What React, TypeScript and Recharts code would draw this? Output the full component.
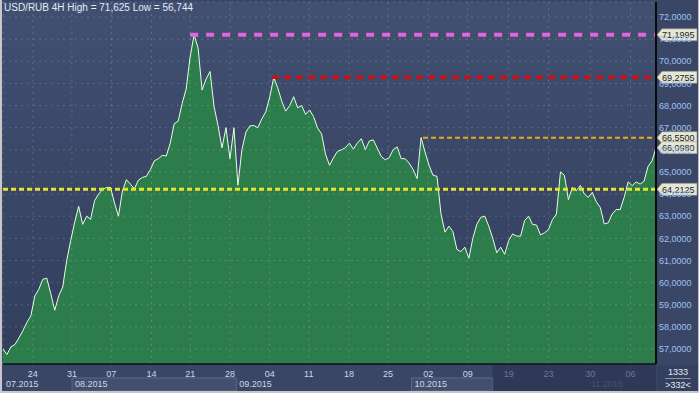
import {
  AreaChart,
  Area,
  XAxis,
  YAxis,
  CartesianGrid,
  ReferenceLine,
  ReferenceArea,
} from 'recharts'

const prices = [
  57.0, 56.75, 57.1, 57.2, 57.5, 57.83, 58.2, 58.5, 59.4, 59.7,
  60.15, 60.2, 59.5, 58.75, 59.4, 59.8, 61.0, 61.9, 62.72, 63.45,
  62.63, 63.0, 62.86, 63.7, 64.0, 64.2, 64.3, 64.3, 63.6, 63.0,
  64.15, 64.65, 64.45, 64.24, 64.63, 64.75, 64.8, 65.1, 65.5, 65.6,
  65.75, 65.72, 66.3, 67.18, 67.3, 68.1, 68.75, 70.2, 71.2, 70.6,
  68.7, 69.2, 69.54, 67.96, 67.1, 66.09, 67.0, 65.6, 67.0, 64.4,
  66.0, 66.8, 67.08, 67.1, 67.0, 67.4, 67.72, 68.4, 69.27, 68.8,
  68.2, 67.75, 68.0, 68.4, 67.9, 68.0, 67.6, 67.8, 67.5, 66.99,
  66.72, 65.8, 65.3, 65.64, 65.93, 66.0, 66.1, 66.3, 66.03, 66.31,
  66.5, 66.01, 66.4, 66.45, 66.08, 65.7, 65.55, 65.65, 66.01, 66.13,
  65.6, 65.6, 65.4, 65.11, 64.7, 66.55, 65.9, 65.3, 64.85, 64.8,
  63.1, 62.28, 62.55, 62.3, 61.5, 61.4, 61.6, 61.1, 62.0, 62.63,
  62.95, 63.0, 62.55, 62.0, 61.35, 61.6, 61.28, 61.9, 62.2, 62.1,
  62.1, 62.8, 63.0, 62.63, 62.6, 62.15, 62.25, 62.4, 62.85, 63.1,
  65.0, 64.85, 63.75, 64.3, 64.15, 64.39, 64.0, 63.85, 64.08, 63.65,
  63.4, 62.65, 62.7, 63.1, 63.3, 63.3, 63.85, 64.55, 64.38, 64.55,
  64.45, 64.58, 65.25, 65.5, 66.098,
]

const dayTicks = [7.5, 17.3, 27.2, 37.3, 47, 57, 67, 76.8, 86.9, 96.7, 106.8, 116.7, 127, 137, 147.5, 157.6]
const dayLabels = ['24', '31', '07', '14', '21', '28', '04', '11', '18', '25', '02', '09', '19', '23', '30', '06']
const priceTicks = [57, 58, 59, 60, 61, 62, 63, 64, 65, 66, 67, 68, 69, 70, 71, 72]

const monthLabels = ['07.2015', '08.2015', '09.2015', '10.2015', '11.2015']
const monthStarts = [0, 17.35, 58.6, 102.6, 146.9]
const monthEnds = [17.35, 58.6, 102.6, 123, 164]
const fadedFrom = 123

const levelValues = [71.1995, 69.2755, 66.55, 64.2125]
const levelFrom = [47, 67.7, 105.5, 0]
const lastPrice = 66.098

const levelStyles = [
  { stroke: '#e466dc', width: 4, dash: '8 8' },
  { stroke: '#e00808', width: 3.5, dash: '6 6' },
  { stroke: '#f2aa10', width: 2, dash: '5 3' },
  { stroke: '#e4e428', width: 3, dash: '5 3' },
]

const Y_DOMAIN: [number, number] = [56.32, 72.68]
// data-unit rows of the time band under the plot
const bandTop = 56.275
const bandSplit = 55.687
const bandBottom = 55.1

const FONT = '"Liberation Sans", Arial, sans-serif'
const fmt = (v: number) => v.toFixed(4).replace('.', ',')

const data = prices.map((p, i) => ({ i, p }))

function PriceTag({ viewBox, text }: { viewBox?: any; text: string }) {
  if (!viewBox) return null
  const x0 = viewBox.x + viewBox.width
  const y = viewBox.y
  return (
    <g>
      <polygon
        points={`${x0 + 1},${y} ${x0 + 6},${y - 6} ${x0 + 41},${y - 6} ${x0 + 41},${y + 6} ${x0 + 6},${y + 6}`}
        fill="#e6e6d6"
        stroke="#8e8e80"
        strokeWidth={0.6}
      />
      <text x={x0 + 6} y={y + 3.5} fontSize={9} fontFamily={FONT} fill="#1c1c1c">
        {text}
      </text>
    </g>
  )
}

function DayTick({ x, y, payload }: any) {
  const idx = dayTicks.indexOf(payload.value)
  const faded = payload.value >= fadedFrom
  return (
    <text
      x={x}
      y={y + 11}
      textAnchor="middle"
      fontSize={9}
      fontFamily={FONT}
      fill={faded ? '#6b778f' : '#cfd6e4'}
    >
      {dayLabels[idx]}
    </text>
  )
}

function MonthLabel({ viewBox, text, faded }: any) {
  if (!viewBox) return null
  return (
    <text
      x={viewBox.x + 3}
      y={viewBox.y + viewBox.height - 3.5}
      fontSize={9}
      fontFamily={FONT}
      fill={faded ? '#6b778f' : '#cfd6e4'}
    >
      {text}
    </text>
  )
}

export default function App() {
  return (
    <div style={{ position: 'relative', width: 699, height: 393, background: '#3a4666', overflow: 'hidden' }}>
      <style>{'body{margin:0}'}</style>
      <AreaChart
        width={699}
        height={393}
        data={data}
        margin={{ top: 2, right: 0, bottom: 0, left: 3 }}
      >
        <defs>
          <linearGradient id="plotBg" x1="0" y1="0" x2="0" y2="1">
            <stop offset="0%" stopColor="#414f71" />
            <stop offset="100%" stopColor="#323e5c" />
          </linearGradient>
        </defs>
        <CartesianGrid fill="url(#plotBg)" horizontal={false} vertical={false} stroke="none" />
        <XAxis
          dataKey="i"
          type="number"
          domain={[0, 164]}
          ticks={dayTicks}
          interval={0}
          tick={<DayTick />}
          tickLine={false}
          axisLine={{ stroke: '#0e0e14', strokeWidth: 1.5 }}
          tickSize={0}
          height={29}
        />
        <YAxis
          orientation="right"
          domain={Y_DOMAIN}
          allowDataOverflow
          ticks={priceTicks}
          interval={0}
          tickFormatter={fmt}
          tick={{ fill: '#9fc2ee', fontSize: 9, fontFamily: FONT }}
          tickLine={false}
          tickSize={0}
          tickMargin={3}
          axisLine={{ stroke: '#0a0a0a', strokeWidth: 2 }}
          width={43}
        />
        <Area
          type="linear"
          dataKey="p"
          stroke="#e6ffe2"
          strokeWidth={1}
          fill="#2d7d4c"
          fillOpacity={1}
          isAnimationActive={false}
          dot={false}
          activeDot={false}
        />
        <CartesianGrid
          zIndex={150}
          stroke="rgba(255,255,255,0.17)"
          strokeDasharray="2 4"
          fill="none"
        />
        {monthLabels.map((m, k) => (
          <ReferenceArea
            key={m}
            x1={monthStarts[k]}
            x2={monthEnds[k]}
            y1={bandSplit}
            y2={bandBottom}
            ifOverflow="visible"
            fill={k === 1 || k === 3 ? '#4c5878' : 'none'}
            stroke={k === 1 || k === 3 ? '#5d6886' : 'none'}
            label={<MonthLabel text={m} faded={k === 4} />}
          />
        ))}
        <ReferenceArea
          x1={fadedFrom}
          x2={164}
          y1={bandTop}
          y2={bandBottom}
          ifOverflow="visible"
          fill="#27304a"
          fillOpacity={0.55}
          stroke="none"
        />
        {levelValues.map((v, k) => (
          <ReferenceLine
            key={v}
            segment={[{ x: levelFrom[k], y: v }, { x: 164, y: v }]}
            stroke={levelStyles[k].stroke}
            strokeWidth={levelStyles[k].width}
            strokeDasharray={levelStyles[k].dash}
            ifOverflow="visible"
            label={<PriceTag text={fmt(v)} />}
          />
        ))}
        <ReferenceLine
          y={lastPrice}
          stroke="none"
          ifOverflow="visible"
          label={<PriceTag text={fmt(lastPrice)} />}
        />
      </AreaChart>
      <div
        style={{
          position: 'absolute', left: 4, top: 2, color: '#e4eaf4',
          fontFamily: FONT, fontSize: 10, lineHeight: '12px', whiteSpace: 'nowrap',
        }}
      >
        USD/RUB 4H High = 71,625 Low = 56,744
      </div>
      <div
        style={{
          position: 'absolute', left: 657, top: 365, width: 42, height: 26, background: '#34405e',
          fontFamily: FONT, fontSize: 9, color: '#e4eaf4', textAlign: 'center', lineHeight: '12px',
        }}
      >
        <div style={{ borderBottom: '1px solid #8a96b0', margin: '1px 8px 0 8px' }}>1333</div>
        <div>&gt;332&lt;</div>
      </div>
      <div
        style={{
          position: 'absolute', left: 0, top: 0, width: 699, height: 393, boxSizing: 'border-box',
          borderLeft: '2px solid #c6c8cc', borderBottom: '2px solid #c6c8cc', borderRight: '1px solid #b8bcc4',
          pointerEvents: 'none',
        }}
      />
    </div>
  )
}
